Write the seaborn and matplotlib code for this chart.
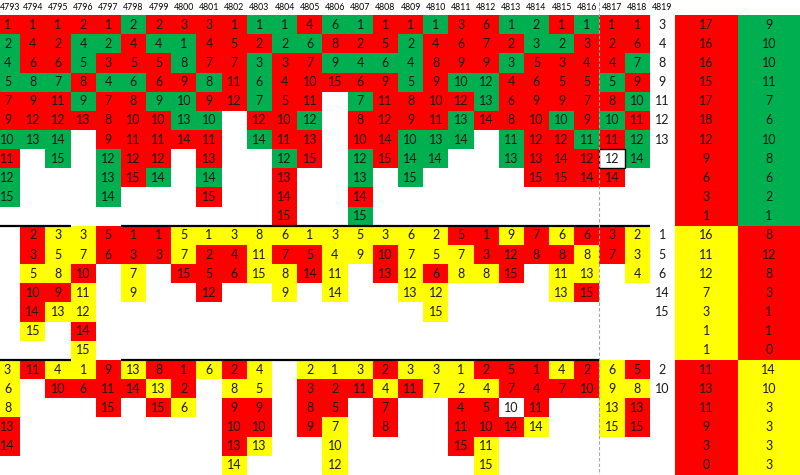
import numpy as np
import matplotlib
matplotlib.use('Agg')
import matplotlib.pyplot as plt
from matplotlib.colors import ListedColormap
from matplotlib.patches import Rectangle
import seaborn as sns

colunas = list(range(4793, 4820))

# r = vermelho, g = verde, y = amarelo, w = branco
bloco_sup = {
    4793: "1r 2g 4g 5g 7r 9r 10g 11r 12g 15g",
    4794: "1r 4r 6r 8g 9r 12r 13g",
    4795: "1r 2r 6r 7g 11r 12r 14g 15g",
    4796: "2r 4g 5g 8r 9g 13r",
    4797: "1r 2g 3r 4g 7r 8r 9r 12g 13g 14g",
    4798: "2g 4r 5r 6g 8r 10r 11r 12r 15r",
    4799: "2r 4g 5r 6r 9g 10r 11r 12r 14g",
    4800: "3r 1g 8g 9r 10g 13g 14r",
    4801: "3r 4r 7r 8g 9r 10g 11r 13r 14g 15r",
    4802: "1r 5r 7r 11r 12r",
    4803: "1g 2r 3g 6g 7g 12r 14g",
    4804: "1g 2g 3r 4r 5r 10r 11r 12g 13r 14r 15r",
    4805: "4r 6g 7r 10r 11r 12g 13r 15r",
    4806: "6g 8r 9g 15r",
    4807: "1g 2r 4g 6r 7g 8r 10r 12g 13g 14r 15g",
    4808: "1r 5r 6g 9r 11r 12r 14r 15r",
    4809: "1r 2g 4g 5g 8r 9r 10g 14g 15g",
    4810: "1g 4r 8r 9r 10r 11r 13g 14g",
    4811: "3r 6r 9r 10g 12r 13g 14g",
    4812: "6r 7r 9r 12g 13g 14r",
    4813: "1g 2r 3g 4r 6r 8r 11g 13g",
    4814: "2g 3g 5r 6r 9r 10r 12r 13r 15r",
    4815: "1r 2g 3r 5r 9r 10g 12r 14r 15r",
    4816: "1g 3r 4r 5r 7r 9r 11g 12r 14r",
    4817: "1r 2r 4r 5g 8r 10g 11r 12w 14r",
    4818: "1r 6r 7g 9r 10g 11r 12g 14g",
}
bloco_meio = {
    4794: "2r 3r 5y 10r 14r 15y",
    4795: "3y 5y 8y 9r 13y",
    4796: "3y 7y 10r 11y 12y 14r 15y",
    4797: "5r 6r",
    4798: "1r 3r 7y 9y",
    4799: "1r 3r",
    4800: "5y 7y 15r",
    4801: "1y 2r 5r 12r",
    4802: "3y 4r 6r",
    4803: "8y 11y 15y",
    4804: "6y 7r 8y 9y",
    4805: "1y 5r 14r",
    4806: "3y 4y 11y 14y",
    4807: "5y 9y",
    4808: "3y 10r 13r",
    4809: "6y 7y 12y 13y",
    4810: "2y 5y 6r 12y 15y",
    4811: "5r 7y 8y",
    4812: "1r 3r 8y",
    4813: "9y 12r 15r",
    4814: "7r 8r",
    4815: "6y 8r 11y 13y",
    4816: "6r 8y 13y 15r",
    4817: "3r 7r",
    4818: "2y 3y 4y",
}
bloco_inf = {
    4793: "3y 6y 8y 13r 14r",
    4794: "11r",
    4795: "4y 10r",
    4796: "1y 6r",
    4797: "9r 11r 15r",
    4798: "13y 14r",
    4799: "8r 13y 15r",
    4800: "1r 2r 6y",
    4801: "6y",
    4802: "2r 8y 9r 10r 13r 14y",
    4803: "4y 5y 9r 10r 13y",
    4805: "2y 3r 8r 9r",
    4806: "1y 2r 5r 7y 10y 12y",
    4807: "3y 11r",
    4808: "2r 4y 7r 8r",
    4809: "3y 11r",
    4810: "3y 7y",
    4811: "1y 2y 4r 11r 15r",
    4812: "2r 4y 5r 10r 11y 15y",
    4813: "5r 7r 10w 14r",
    4814: "1r 4r 11r 14y",
    4815: "4y 7r",
    4816: "2r 10r",
    4817: "6y 9y 13y 15y",
    4818: "5r 8y 13r 15r",
}
marcas_sup = [3, 4, 8, 9, 11, 12, 13]
marcas_meio = [1, 5, 6, 14, 15]
marcas_inf = [2, 10]

resumo_sup = ([17, 16, 16, 15, 17, 18, 12, 9, 6, 3, 1], [9, 10, 10, 11, 7, 6, 10, 8, 6, 2, 1])
resumo_meio = ([16, 11, 12, 7, 3, 1, 1], [8, 12, 8, 3, 1, 1, 0])
resumo_inf = ([11, 13, 11, 9, 3, 0], [14, 10, 3, 3, 3, 3])
cores_resumo = (('r', 'g'), ('y', 'r'), ('r', 'y'))

linhas_bloco = [11, 7, 6]
cod = {'w': 0, 'r': 1, 'g': 2, 'y': 3}
cmap = ListedColormap(['white', '#FF0000', '#00B050', '#FFFF00'])

n_lin = sum(linhas_bloco)
grade = np.zeros((n_lin, len(colunas)))
textos = np.full((n_lin, len(colunas)), '', dtype=object)
brancos = []

inicio = 0
for bloco, marcas, n in zip([bloco_sup, bloco_meio, bloco_inf],
                            [marcas_sup, marcas_meio, marcas_inf], linhas_bloco):
    for col, s in bloco.items():
        j = colunas.index(col)
        for i, item in enumerate(s.split()):
            grade[inicio + i, j] = cod[item[-1]]
            textos[inicio + i, j] = item[:-1]
            if item[-1] == 'w' and bloco is bloco_sup:
                brancos.append((j, inicio + i))
    for i, m in enumerate(marcas):
        textos[inicio + i, len(colunas) - 1] = str(m)
    inicio += n

res = np.zeros((n_lin, 2))
res_txt = np.full((n_lin, 2), '', dtype=object)
inicio = 0
for (a, b), (ca, cb), n in zip([resumo_sup, resumo_meio, resumo_inf], cores_resumo, linhas_bloco):
    for i in range(n):
        res[inicio + i] = [cod[ca], cod[cb]]
        res_txt[inicio + i] = [str(a[i]), str(b[i])]
    inicio += n

plt.rcParams['font.family'] = ['Lato', 'DejaVu Sans']
fig = plt.figure(figsize=(8, 4.75), dpi=100)
alt = 460 / 475
ax = fig.add_axes([0, 0, 675 / 800, alt])
sns.heatmap(grade, cmap=cmap, vmin=-0.5, vmax=3.5, cbar=False, annot=textos, fmt='',
            annot_kws={'color': '#1a1a1a', 'fontsize': 9}, ax=ax)
ax.set_xlim(0.2, len(colunas))
ax.xaxis.tick_top()
ax.set_xticks(np.arange(1, len(colunas)) + 0.5)
ax.set_xticklabels([str(c) for c in colunas[1:]], fontsize=6.3, rotation=0)
ax.tick_params(axis='x', length=0, pad=2)
# primeira coluna cortada na borda: rótulo alinhado à esquerda
ax.annotate(str(colunas[0]), xy=(0.2, 1), xycoords=('data', 'axes fraction'),
            xytext=(0, 2), textcoords='offset points', ha='left', va='bottom', fontsize=6.3)
ax.set_yticks([])

for j, i in brancos:
    ax.add_patch(Rectangle((j, i), 1, 1, fill=False, edgecolor='black', lw=1))

ax.plot([0.2, 3], [11, 11], color='black', lw=1.6, solid_capstyle='butt')
ax.plot([5, 26], [11, 11], color='black', lw=1.6, solid_capstyle='butt')
ax.plot([0.2, 3], [18, 18], color='black', lw=1.6, solid_capstyle='butt')
ax.plot([5, 24], [18, 18], color='black', lw=1.6, solid_capstyle='butt')
ax.plot([24, 24], [-0.7, n_lin], color='#a6a6a6', lw=0.8, ls=(0, (3, 2)), clip_on=False)

ax2 = fig.add_axes([675 / 800, 0, 125 / 800, alt])
sns.heatmap(res, cmap=cmap, vmin=-0.5, vmax=3.5, cbar=False, annot=res_txt, fmt='',
            annot_kws={'color': '#1a1a1a', 'fontsize': 9}, ax=ax2)
ax2.set_xticks([])
ax2.set_yticks([])

fig.savefig('out.png', dpi=100)
